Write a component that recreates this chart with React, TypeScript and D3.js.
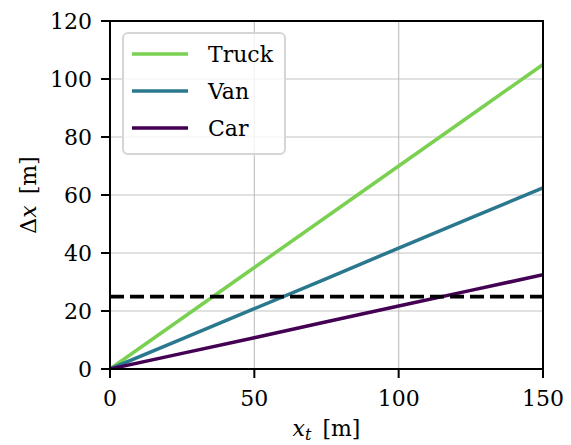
import React from "react";
import * as d3 from "d3";

const xValues = [0, 25, 50, 75, 100, 125, 150];
const truckValues = [0, 17.5, 35, 52.5, 70, 87.5, 105];
const vanValues = [0, 10.4, 20.8, 31.2, 41.7, 52.1, 62.5];
const carValues = [0, 5.4, 10.8, 16.3, 21.7, 27.1, 32.5];
const thresholdValue = 25;
const xTicks = [0, 50, 100, 150];
const yTicks = [0, 20, 40, 60, 80, 100, 120];
const seriesNames = ["Truck", "Van", "Car"];
const seriesColors = ["#7ad151", "#2a788e", "#440154"];

const W = 571;
const H = 445;
const M = { left: 110, right: 28, top: 21, bottom: 76 };
const FONT = "DejaVu Serif";
const FS = 22;
const textStyle = { fontFamily: FONT };

export default function App() {
  const x = d3.scaleLinear().domain([0, 150]).range([M.left, W - M.right]);
  const y = d3.scaleLinear().domain([0, 120]).range([H - M.bottom, M.top]);
  const series = [truckValues, vanValues, carValues];
  const line = d3
    .line<number>()
    .x((_, i) => x(xValues[i]))
    .y((d) => y(d));

  const x0 = x(0);
  const x1 = x(150);
  const y0 = y(0);
  const y1 = y(120);

  const legend = { x: 123, y: 33, w: 162, h: 121 };

  return (
    <svg
      width={W}
      height={H}
      style={{ position: "absolute", left: 0, top: 0, background: "#fff", fontFamily: FONT }}
    >
      <defs>
        <clipPath id="plotClip">
          <rect x={x0} y={y1} width={x1 - x0} height={y0 - y1} />
        </clipPath>
      </defs>
      {xTicks.map((t) => (
        <line key={"gx" + t} x1={x(t)} x2={x(t)} y1={y0} y2={y1} stroke="#c4c4c4" strokeWidth={1.2} />
      ))}
      {yTicks.map((t) => (
        <line key={"gy" + t} x1={x0} x2={x1} y1={y(t)} y2={y(t)} stroke="#c4c4c4" strokeWidth={1.2} />
      ))}
      <g clipPath="url(#plotClip)">
        {series.map((s, i) => (
          <path key={seriesNames[i]} d={line(s) || ""} fill="none" stroke={seriesColors[i]} strokeWidth={3.5} />
        ))}
        <line
          x1={x0}
          x2={x1}
          y1={y(thresholdValue)}
          y2={y(thresholdValue)}
          stroke="#000"
          strokeWidth={3.75}
          strokeDasharray="14 6"
        />
      </g>
      <rect x={x0} y={y1} width={x1 - x0} height={y0 - y1} fill="none" stroke="#000" strokeWidth={2} />
      {xTicks.map((t) => (
        <g key={"xt" + t}>
          <line x1={x(t)} x2={x(t)} y1={y0} y2={y0 + 9} stroke="#000" strokeWidth={2} />
          <text x={x(t)} y={406} textAnchor="middle" fontSize={FS} fill="#000" style={textStyle}>
            {t}
          </text>
        </g>
      ))}
      {yTicks.map((t) => (
        <g key={"yt" + t}>
          <line x1={x0 - 9} x2={x0} y1={y(t)} y2={y(t)} stroke="#000" strokeWidth={2} />
          <text x={92} y={y(t) + 8} textAnchor="end" fontSize={FS} fill="#000" style={textStyle}>
            {t}
          </text>
        </g>
      ))}
      <text x={(x0 + x1) / 2} y={436} textAnchor="middle" fontSize={FS} fill="#000" style={textStyle}>
        <tspan fontStyle="italic">x</tspan>
        <tspan fontStyle="italic" fontSize={16} dy={4}>t</tspan>
        <tspan dy={-4}>{"\u2002[m]"}</tspan>
      </text>
      <text
        transform={`translate(36, ${(y0 + y1) / 2}) rotate(-90)`}
        textAnchor="middle"
        fontSize={FS}
        fill="#000"
        style={textStyle}
      >
        <tspan>Δ</tspan>
        <tspan fontStyle="italic">x</tspan>
        <tspan>{"\u2002[m]"}</tspan>
      </text>
      <rect
        x={legend.x}
        y={legend.y}
        width={legend.w}
        height={legend.h}
        rx={5}
        ry={5}
        fill="#fff"
        fillOpacity={0.8}
        stroke="#d5d5d5"
        strokeWidth={2}
      />
      {seriesNames.map((n, i) => {
        const ly = 54 + i * 37;
        return (
          <g key={"lg" + n}>
            <line x1={132} x2={188} y1={ly} y2={ly} stroke={seriesColors[i]} strokeWidth={3.5} />
            <text x={208} y={ly + 8} fontSize={FS} fill="#000" style={textStyle}>
              {n}
            </text>
          </g>
        );
      })}
    </svg>
  );
}
